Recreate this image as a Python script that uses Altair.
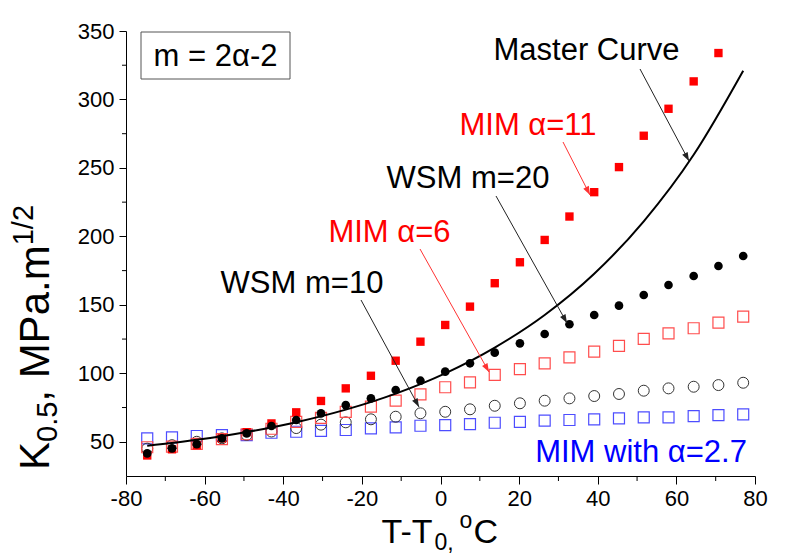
import math
import altair as alt
import pandas as pd

# ---------------- data ----------------
x_pts = [-74.6, -68.3, -62.0, -55.6, -49.3, -43.0, -36.7, -30.4, -24.1, -17.7,
         -11.4, -5.1, 1.2, 7.5, 13.8, 20.2, 26.5, 32.8, 39.1, 45.4,
         51.7, 58.0, 64.4, 70.7, 77.0]
mim11 = [40, 44.5, 47.5, 52.5, 57, 63.4, 71.5, 79.8, 89, 98.2, 109.2, 123.1,
         135.3, 148.7, 165.8, 181.1, 197.4, 214.5, 232.3, 250.6, 273.5, 293.2,
         313.2, 333.9]
wsm20 = [41.5, 45.2, 48.3, 52.5, 56.1, 61.5, 65.9, 70.7, 76.8, 81.7, 87.8, 94.6,
         101.2, 107.3, 115.1, 121.9, 128.7, 135.8, 142.6, 149.4, 157.2, 164.5,
         171.1, 178.4, 185.7]
mim6 = [46, 46.5, 48.5, 52, 55.5, 59.5, 64.6, 67.5, 71.9, 75.6, 80, 84.6, 89.8,
        93.4, 98.8, 103.1, 107.3, 111.7, 115.8, 120, 125.1, 129.2, 132.9, 137,
        141.4]
wsm10 = [45, 47.5, 50, 52.5, 55, 57.5, 60, 62.5, 64.2, 66.4, 68.3, 70.8, 71.9,
         73.7, 76.3, 78.1, 80, 81.7, 83.4, 84.9, 87.3, 89, 90.2, 91.4, 93.1]
mim27 = [52.5, 53.2, 54.2, 54.9, 54.9, 56.6, 57.3, 58, 58.6, 59.8, 60.5, 61.7,
         62.2, 62.9, 63.9, 64.6, 65.4, 65.9, 66.4, 67.1, 67.8, 67.8, 68.8, 69.5,
         70]
mc_x = [-74.6, -62.0, -49.3, -36.7, -24.1, -11.4, 1.2, 13.8, 26.5, 39.1, 51.7,
        64.4, 77.0]
mc_y = [47.0, 51.4, 57.1, 64.3, 73.5, 85.2, 100, 118.8, 142.6, 172.7, 211.0,
        259.6, 321.0]

x_major = [-80, -60, -40, -20, 0, 20, 40, 60, 80]
x_minor = [-70, -50, -30, -10, 10, 30, 50, 70]
y_major = [50, 100, 150, 200, 250, 300, 350]
y_minor = [75, 125, 175, 225, 275, 325]

# ---------------- styling ----------------
W, H = 629, 445
FONT = "Liberation Sans"

xscale = alt.Scale(domain=[-80, 80], nice=False)
yscale = alt.Scale(domain=[25, 350], nice=False, zero=False)
xaxis = alt.Axis(values=x_major, title=None, grid=False, tickSize=8,
                 labelFontSize=22, labelFont=FONT, labelColor="black",
                 labelPadding=4, domainColor="black", tickColor="black",
                 labelExpr="'' + datum.value", labelFlush=False)
yaxis = alt.Axis(values=y_major, title=None, grid=False, tickSize=7,
                 labelFontSize=22, labelFont=FONT, labelColor="black",
                 labelPadding=5, domainColor="black", tickColor="black",
                 labelExpr="'' + datum.value", labelFlush=False)
X = alt.X("x:Q", scale=xscale, axis=xaxis)
Y = alt.Y("y:Q", scale=yscale, axis=yaxis)


def series(xs, ys):
    return pd.DataFrame({"x": xs[:len(ys)], "y": ys})


one = pd.DataFrame({"a": [0]})

layers = []

# minor ticks
layers.append(alt.Chart(pd.DataFrame({"x": x_minor})).mark_rule(color="black").encode(
    x=X, y=alt.value(H), y2=alt.value(H + 5)))
layers.append(alt.Chart(pd.DataFrame({"y": y_minor})).mark_rule(color="black").encode(
    y=Y, x=alt.value(-4), x2=alt.value(0)))

# data series
layers.append(alt.Chart(series(x_pts, mim27)).mark_point(
    shape="square", size=121, filled=False, color="#4d4dff", strokeWidth=1.2, opacity=1).encode(x=X, y=Y))
layers.append(alt.Chart(series(x_pts, wsm10)).mark_point(
    shape="circle", size=120, filled=False, color="#333333", strokeWidth=1, opacity=1).encode(x=X, y=Y))
layers.append(alt.Chart(series(x_pts, mim6)).mark_point(
    shape="square", size=121, filled=False, color="#ff4d4d", strokeWidth=1.2, opacity=1).encode(x=X, y=Y))
layers.append(alt.Chart(series(x_pts, mim11)).mark_point(
    shape="square", size=70, filled=True, color="#ff0000", opacity=1).encode(x=X, y=Y))
layers.append(alt.Chart(pd.DataFrame({"x": mc_x, "y": mc_y})).mark_line(
    color="black", strokeWidth=2, interpolate="monotone").encode(x=X, y=Y))
layers.append(alt.Chart(series(x_pts, wsm20)).mark_point(
    shape="circle", size=75, filled=True, color="black", opacity=1).encode(x=X, y=Y))

# box with "m = 2α-2"
layers.append(alt.Chart(one).mark_rect(fill="white", stroke="#555555", strokeWidth=1).encode(
    x=alt.value(15), x2=alt.value(164), y=alt.value(1), y2=alt.value(48)))


def label(txt, x, y, color="black", size=31, align="center", angle=0):
    return alt.Chart(one).mark_text(text=txt, font=FONT, fontSize=size, color=color,
                                    align=align, baseline="alphabetic", angle=angle).encode(
        x=alt.value(x), y=alt.value(y))


ARROW = "M0,0 L-0.36,-1 L0.36,-1 Z"


def arrow(x1, y1, x2, y2, color):
    ang = (math.degrees(math.atan2(-(x2 - x1), (y2 - y1))) + 360) % 360
    r = alt.Chart(one).mark_rule(color=color, strokeWidth=1).encode(
        x=alt.value(x1), y=alt.value(y1), x2=alt.value(x2), y2=alt.value(y2))
    h = alt.Chart(one).mark_point(shape=ARROW, size=300, filled=True, color=color,
                                  opacity=1, angle=ang).encode(x=alt.value(x2), y=alt.value(y2))
    return [r, h]


layers.append(label("m = 2α-2", 89.5, 34.5))
layers.append(label("Master Curve", 460.5, 29))
layers.append(label("MIM α=11", 402, 104, color="#ff0000"))
layers.append(label("WSM m=20", 342, 157))
layers.append(label("MIM α=6", 263.5, 210.5, color="#ff0000"))
layers.append(label("WSM m=10", 176, 262))
layers.append(label("MIM with α=2.7", 515, 430.5, color="#0000ff"))

layers += arrow(514, 38, 563, 130, "#222222")
layers += arrow(437, 111, 464, 164, "#ff3333")
layers += arrow(370, 165, 441, 292, "#222222")
layers += arrow(294, 218, 363, 341, "#ff3333")
layers += arrow(235, 269, 293, 376, "#222222")

# x axis title: T-T0, °C
layers.append(label("T-T", 255.5, 512, size=34, align="left"))
layers.append(label("0,", 308.4, 519, size=23, align="left"))
layers.append(label("o", 333.6, 497, size=23, align="left"))
layers.append(label("C", 347.4, 512, size=34, align="left"))

# y axis title: K0.5, MPa.m1/2 (rotated)
layers.append(label("K", -77, 439, size=42, align="left", angle=270))
layers.append(label("0.5", -69, 411, size=29, align="left", angle=270))
layers.append(label(", MPa.m", -77, 370.7, size=42, align="left", angle=270))
layers.append(label("1/2", -93, 214.3, size=29, align="left", angle=270))

chart = alt.layer(*layers).properties(
    width=W, height=H,
    autosize=alt.AutoSizeParams(type="none"),
    padding={"left": 118, "top": 23, "right": 29, "bottom": 80},
    background="white",
).configure_view(stroke=None)

chart.save("out.html", embed_options={"renderer": "svg", "actions": False})
